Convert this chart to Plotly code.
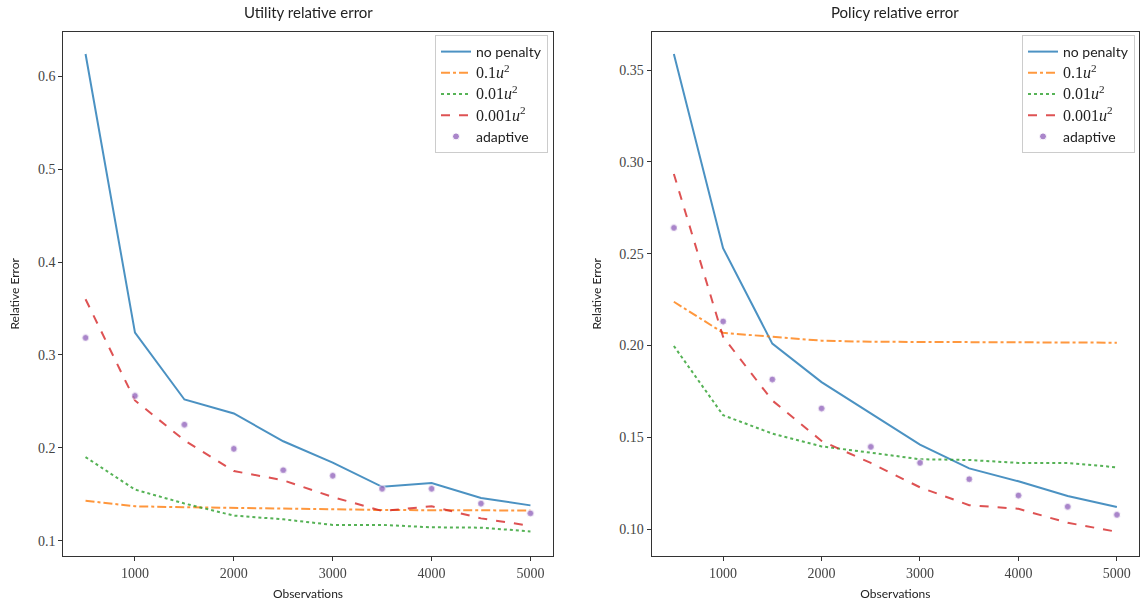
import plotly.graph_objects as go

obs = [500, 1000, 1500, 2000, 2500, 3000, 3500, 4000, 4500, 5000]

util_none = [0.624, 0.324, 0.252, 0.237, 0.207, 0.184, 0.158, 0.162, 0.146, 0.138]
util_p1 = [0.143, 0.137, 0.136, 0.135, 0.1346, 0.1338, 0.133, 0.133, 0.1327, 0.1325]
util_p01 = [0.190, 0.155, 0.140, 0.127, 0.123, 0.117, 0.117, 0.1144, 0.114, 0.110]
util_p001 = [0.360, 0.251, 0.208, 0.175, 0.165, 0.147, 0.132, 0.137, 0.124, 0.116]
util_adapt = [0.3185, 0.256, 0.225, 0.199, 0.176, 0.170, 0.156, 0.156, 0.140, 0.1295]

pol_none = [0.3587, 0.253, 0.201, 0.180, 0.163, 0.146, 0.133, 0.126, 0.118, 0.112]
pol_p1 = [0.2238, 0.2069, 0.2047, 0.2026, 0.202, 0.202, 0.2018, 0.2018, 0.2016, 0.2015]
pol_p01 = [0.1997, 0.162, 0.152, 0.145, 0.1416, 0.138, 0.1376, 0.136, 0.136, 0.1336]
pol_p001 = [0.2934, 0.2047, 0.170, 0.148, 0.136, 0.1227, 0.113, 0.111, 0.1034, 0.0985]
pol_adapt = [0.2641, 0.2131, 0.1815, 0.1657, 0.1448, 0.1361, 0.1272, 0.1183, 0.1122, 0.1078]

names = ["no penalty",
         "<span style='font-family:Liberation Serif;font-size:16px'>0.1<i>u</i><sup>2</sup></span>",
         "<span style='font-family:Liberation Serif;font-size:16px'>0.01<i>u</i><sup>2</sup></span>",
         "<span style='font-family:Liberation Serif;font-size:16px'>0.001<i>u</i><sup>2</sup></span>",
         "adaptive"]
colors = ["#1f77b4", "#ff7f0e", "#2ca02c", "#d62728", "#9467bd"]
dashes = ["solid", "dashdot", "dot", "dash"]

SANS = "Lato, DejaVu Sans, sans-serif"
SERIF = "Liberation Serif, DejaVu Serif, serif"

fig = go.Figure()

def add_panel(series, xa, ya, legend):
    for i in range(4):
        fig.add_trace(go.Scatter(
            x=obs, y=series[i], mode="lines", name=names[i],
            line=dict(color=colors[i], width=2, dash=dashes[i]),
            opacity=0.8, xaxis=xa, yaxis=ya, legend=legend))
    fig.add_trace(go.Scatter(
        x=obs, y=series[4], mode="markers", name=names[4],
        marker=dict(color=colors[4], size=7, line=dict(color="white", width=1)),
        opacity=0.8, xaxis=xa, yaxis=ya, legend=legend))

add_panel([util_none, util_p1, util_p01, util_p001, util_adapt], "x", "y", "legend")
add_panel([pol_none, pol_p1, pol_p01, pol_p001, pol_adapt], "x2", "y2", "legend2")

axis_common = dict(showline=True, mirror=True, linecolor="#333333", linewidth=1.2,
                   ticks="outside", ticklen=4, tickcolor="#333333", showgrid=False,
                   zeroline=False, tickfont=dict(family=SERIF, size=14, color="#444444"))

xtitle = dict(text="Observations", font=dict(family=SANS, size=12, color="#222"), standoff=9)
ytitle = dict(text="Relative Error", font=dict(family=SANS, size=12, color="#222"), standoff=15)

ydom = [1 - 556 / 604, 1 - 31.7 / 604]
fig.update_layout(
    width=1143, height=604,
    margin=dict(l=0, r=0, t=0, b=0),
    plot_bgcolor="white", paper_bgcolor="white",
    xaxis=dict(domain=[63.3 / 1143, 552.7 / 1143], range=[275, 5225],
               tickvals=[1000, 2000, 3000, 4000, 5000], anchor="y",
               title=xtitle, **axis_common),
    yaxis=dict(domain=ydom, range=[0.0835, 0.648], tickvals=[0.1, 0.2, 0.3, 0.4, 0.5, 0.6],
               tickformat=".1f", anchor="x", title=ytitle, **axis_common),
    xaxis2=dict(domain=[651.7 / 1143, 1139 / 1143], range=[275, 5225],
                tickvals=[1000, 2000, 3000, 4000, 5000], anchor="y2",
                title=xtitle, **axis_common),
    yaxis2=dict(domain=ydom, range=[0.0853, 0.3709], tickvals=[0.10, 0.15, 0.20, 0.25, 0.30, 0.35],
                tickformat=".2f", anchor="x2", title=ytitle, **axis_common),
    legend=dict(x=548 / 1143, y=1 - 35 / 604, xanchor="right", yanchor="top",
                bgcolor="rgba(255,255,255,0.8)", bordercolor="#cccccc", borderwidth=1,
                font=dict(family=SANS, size=14, color="#222"), tracegroupgap=0),
    legend2=dict(x=1135 / 1143, y=1 - 35 / 604, xanchor="right", yanchor="top",
                 bgcolor="rgba(255,255,255,0.8)", bordercolor="#cccccc", borderwidth=1,
                 font=dict(family=SANS, size=14, color="#222"), tracegroupgap=0),
    annotations=[
        dict(text="Utility relative error", x=(63.3 + 552.7) / 2 / 1143, y=1 - 12 / 604,
             xref="paper", yref="paper", showarrow=False, xanchor="center", yanchor="middle",
             font=dict(family=SANS, size=15, color="#222")),
        dict(text="Policy relative error", x=(651.7 + 1139) / 2 / 1143, y=1 - 12 / 604,
             xref="paper", yref="paper", showarrow=False, xanchor="center", yanchor="middle",
             font=dict(family=SANS, size=15, color="#222")),
    ],
)

fig.write_html("out.html")
